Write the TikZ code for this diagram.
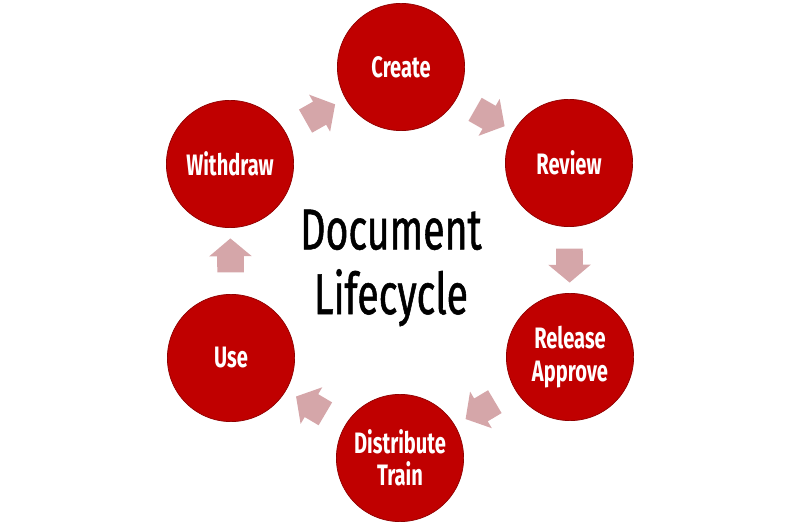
\documentclass[tikz,border=0pt]{standalone}
\usepackage{fontspec}
\setmainfont{Fira Sans}[FakeStretch=0.68]
\newfontfamily\titlefont{Fira Sans}[FakeStretch=0.68, FakeBold=0.9]
\usetikzlibrary{shapes.arrows}
\definecolor{stagered}{HTML}{C00000}
\definecolor{flowpink}{HTML}{D5A6A9}
\tikzset{
  stage/.style={circle , fill=stagered , draw=stagered!75!black , line width=0.5pt ,
    minimum size=3.18cm , inner sep=0pt , text=white , align=center ,
    font=\bfseries\fontsize{21}{23}\selectfont},
  flow/.style={single arrow , fill=flowpink , draw=none ,
    inner xsep=0pt , inner ysep=0.325cm ,
    minimum height=0.85cm , minimum width=1.05cm ,
    single arrow head extend=0.2cm , single arrow tip angle=100 ,
    midway , sloped , allow upside down}
}
\begin{document}
\begin{tikzpicture}[x=0.025cm, y=-0.025cm]
  \useasboundingbox (0,0) rectangle (800,523);
    \node [stage] (create) at (401,67) {Create};
    \node [stage] (review) at (569,163) {Review};
    \node [stage] (release) at (570,357) {Release\\Approve};
    \node [stage] (distribute) at (400,458) {Distribute\\Train};
    \node [stage] (use) at (231,358) {Use};
    \node [stage] (withdraw) at (230,164) {Withdraw};

    \node [align=center , font=\titlefont\fontsize{41}{46}\selectfont] (title) at (391,268) {Document\\Lifecycle};

  \path (withdraw) -- node [flow] {} (create);
  \path (create) -- node [flow] {} (review);
  \path (review) -- node [flow] {} (release);
  \path (release) -- node [flow] {} (distribute);
  \path (distribute) -- node [flow] {} (use);
  \path (use) -- node [flow] {} (withdraw);
\end{tikzpicture}
\end{document}
